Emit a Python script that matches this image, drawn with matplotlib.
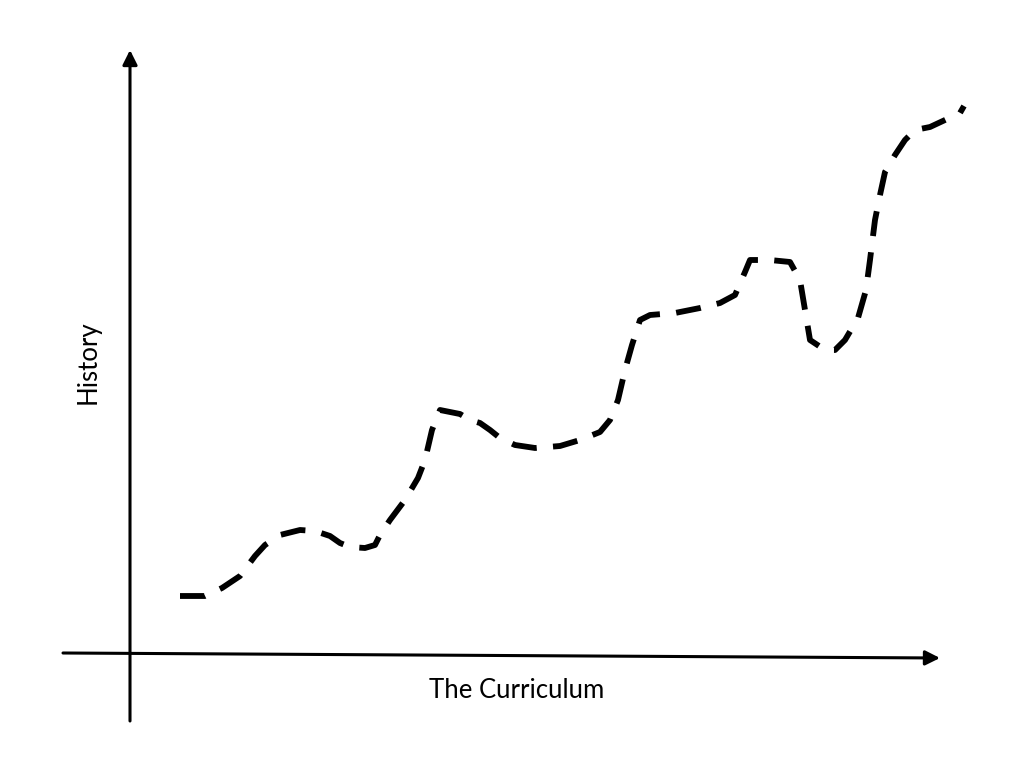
import matplotlib.pyplot as plt
import numpy as np

# curve (pixel-like units, y grows downward)
curve_x = [180, 205, 222, 240, 255, 265, 280, 300, 315, 330, 340, 350, 365, 375, 380,
           390, 405, 418, 425, 432, 440, 460, 470, 480, 490, 500, 515, 535, 560, 580,
           600, 610, 618, 625, 632, 640, 650, 675, 700, 720, 735, 745, 750, 770, 790,
           800, 805, 810, 825, 835, 845, 858, 866, 870, 875, 880, 885, 895, 905, 915,
           930, 945, 960, 964]
curve_y = [596, 596, 588, 576, 556, 545, 535, 530, 531, 536, 543, 547, 548, 545, 535,
           520, 500, 478, 460, 430, 410, 414, 420, 423, 430, 438, 445, 448, 446, 440,
           432, 420, 400, 370, 345, 320, 315, 313, 308, 303, 295, 272, 260, 260, 262,
           280, 310, 340, 350, 350, 340, 318, 290, 260, 220, 195, 172, 155, 140, 130,
           127, 120, 113, 106]

xlabel = "The Curriculum"
ylabel = "History"

fig = plt.figure(figsize=(10.24, 7.68), dpi=100)
ax = fig.add_axes([0, 0, 1, 1])
ax.set_xlim(0, 1024)
ax.set_ylim(768, 0)
ax.axis('off')

# axes drawn as arrows
ax.annotate('', xy=(130, 50), xytext=(130, 721),
            arrowprops=dict(arrowstyle='-|>', lw=2.2, color='black', mutation_scale=22,
                            shrinkA=0, shrinkB=0))
ax.annotate('', xy=(940, 658), xytext=(63, 653),
            arrowprops=dict(arrowstyle='-|>', lw=2.2, color='black', mutation_scale=22,
                            shrinkA=0, shrinkB=0))

ax.plot(curve_x, curve_y, color='black', lw=4.2, linestyle=(0, (4.3, 2.8)),
        solid_capstyle='butt', dash_capstyle='butt')

ax.text(517, 690, xlabel, fontsize=18.5, family='Lato', ha='center', va='center')
ax.text(88, 362, ylabel, fontsize=18.5, family='Lato', ha='center', va='center', rotation=90)

fig.savefig('out.png', dpi=100)
